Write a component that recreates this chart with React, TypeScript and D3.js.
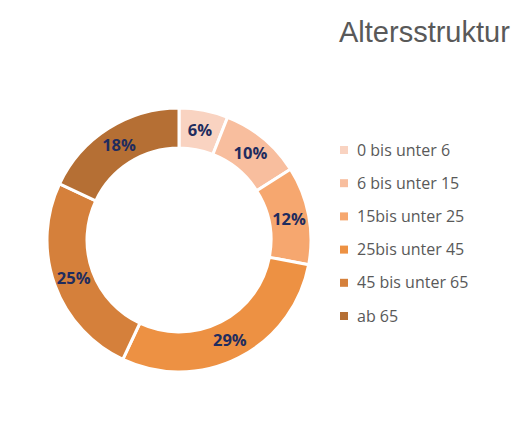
import React from "react";
import * as d3 from "d3";

const categories = [
  "0 bis unter 6",
  "6 bis unter 15",
  "15bis unter 25",
  "25bis unter 45",
  "45 bis unter 65",
  "ab 65",
];
const values = [6, 10, 12, 29, 25, 18];
const colors = ["#F9D3C1", "#F8BE9E", "#F6A76F", "#ED9143", "#D5803B", "#B56F34"];

const width = 517;
const height = 428;
const cx = 179;
const cy = 240;
const outerRadius = 132;
const innerRadius = 92;

export default function App() {
  const data = categories.map((c, i) => ({ category: c, value: values[i] }));
  const pie = d3
    .pie<{ category: string; value: number }>()
    .sort(null)
    .value((d) => d.value);
  const arc = d3
    .arc<d3.PieArcDatum<{ category: string; value: number }>>()
    .innerRadius(innerRadius)
    .outerRadius(outerRadius);
  const labelArc = d3
    .arc<d3.PieArcDatum<{ category: string; value: number }>>()
    .innerRadius(112)
    .outerRadius(112);
  const arcs = pie(data);
  const total = d3.sum(values);

  const legendY = d3
    .scalePoint<string>()
    .domain(categories)
    .range([150, 316]);

  return (
    <svg
      width={width}
      height={height}
      style={{ position: "absolute", left: 0, top: 0, background: "#fff" }}
    >
      <text
        x={339}
        y={42}
        fontFamily="Liberation Sans, Arial, sans-serif"
        fontSize={29}
        fill="#595959"
      >
        Altersstruktur
      </text>
      <g transform={`translate(${cx},${cy})`}>
        {arcs.map((a, i) => (
          <path
            key={a.data.category}
            d={arc(a) || ""}
            fill={colors[i]}
            stroke="#fff"
            strokeWidth={3}
          />
        ))}
        {arcs.map((a) => {
          const [x, y] = labelArc.centroid(a);
          return (
            <text
              key={a.data.category + "-label"}
              x={x}
              y={y}
              dy="0.35em"
              textAnchor="middle"
              fontFamily="Open Sans, Liberation Sans, sans-serif"
              fontWeight="bold"
              fontSize={16.5}
              fill="#1F2C5E"
            >
              {Math.round((a.data.value / total) * 100)}%
            </text>
          );
        })}
      </g>
      <g>
        {categories.map((c, i) => (
          <g key={c} transform={`translate(340,${legendY(c)})`}>
            <rect x={0} y={-4} width={8} height={8} fill={colors[i]} />
            <text
              x={17}
              y={0}
              dy="0.35em"
              fontFamily="Open Sans, Liberation Sans, sans-serif"
              fontSize={16}
              fill="#595959"
            >
              {c}
            </text>
          </g>
        ))}
      </g>
    </svg>
  );
}
